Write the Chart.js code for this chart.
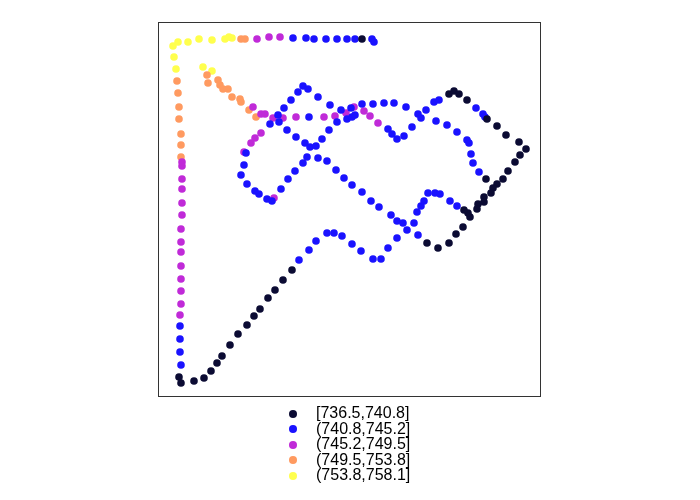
<!DOCTYPE html>
<html>
<head>
<meta charset="utf-8">
<script src="https://cdn.jsdelivr.net/npm/chart.js@4/dist/chart.umd.min.js"></script>
<style>
    body { margin: 0; background: #fff; }
    #wrap { position: relative; width: 700px; height: 500px; }
    #legend { position: absolute; left: 286px; top: 405px; font-family: "Liberation Sans", Arial, sans-serif; font-size: 16px; color: #000; }
    .row { position: relative; height: 15.5px; line-height: 15.5px; white-space: nowrap; }
    .dot { position: absolute; left: 3px; top: 4.5px; width: 8px; height: 8px; border-radius: 50%; }
    .lab { position: absolute; left: 30px; top: 0; }
</style>
</head>
<body>
<div id="wrap">
    <canvas id="track" width="700" height="500"></canvas>
    <div id="legend"></div>
</div>
<script>
// elevation bins of the track
const binLabels = ["[736.5,740.8]", "(740.8,745.2]", "(745.2,749.5]", "(749.5,753.8]", "(753.8,758.1]"];
const binColors = ["#0b0b33", "#1a12ff", "#c02ad8", "#ff9a60", "#ffff4d"];

// track points per bin, [easting, northing]
const bin1 = [
    [203,357],
    [20,19],[22,13],[35,15],[45,18],[52,25],[58,33],[63,40],[71,51],[79,62],[88,71],[95,80],
    [101,87],[109,98],[116,106],[124,116],[133,126],
    [290,302],[295,305],[300,302],[308,296],[328,277],[338,270],[347,261],[360,254],[367,247],
    [361,241],[356,234],[349,225],[344,217],[338,212],[334,208],[332,203],[327,217],
    [325,199],[325,194],[319,192],[318,187],[311,179],[309,183],[305,186],[304,169],[297,162],
    [290,153],[279,148],[268,153]
];
const bin2 = [
    [134,358],[147,358],[155,357],[167,357],[178,357],[188,357],[196,357],[213,357],[215,354],
    [21,70],[21,57],[21,44],[22,31],
    [140,136],[150,146],[157,155],[168,163],[175,163],[183,160],[193,152],[202,145],[214,137],
    [222,137],[229,148],[238,158],[248,166],[259,161],[255,173],[258,184],[262,190],[265,195],
    [269,203],[276,203],[281,202],[291,195],[298,190],
    [177,226],[185,218],[193,211],[203,204],[212,195],[220,189],[232,181],[238,175],[244,173],
    [168,235],[159,238],[148,239],[144,233],[136,225],[129,217],[122,207],[113,195],[108,197],
    [100,202],[96,205],[88,212],[82,221],[85,231],[87,243],
    [119,281],[125,288],[132,296],[139,304],[144,310],[149,307],[159,299],[171,291],[182,286],
    [120,274],[111,272],[128,266],[137,259],[146,253],[151,249],[157,250],[163,257],[170,266],
    [178,274],[150,279],[188,277],[193,279],[196,281],[192,288],[203,292],[214,292],[225,293],
    [235,293],[247,289],[229,267],[233,262],[238,257],[245,260],[253,269],[259,282],[267,286],
    [262,278],[277,275],[275,294],[280,296],[288,271],[298,264],[308,256],[310,253],[312,242],
    [314,233],[320,224],[317,288],[324,282],[326,279]
];
const bin3 = [
    [98,357],[110,359],[121,359],
    [23,234],[23,230],[23,217],[23,207],[23,193],[23,181],[22,167],[22,154],[22,144],[22,130],
    [22,117],[22,105],[22,92],[21,81],
    [94,289],[102,282],[106,282],[114,278],[124,278],[137,279],[165,279],[176,280],[187,283],
    [195,289],[205,285],[211,280],[219,273],
    [85,244],[92,253],[96,258],[102,263],[115,198]
];
const bin4 = [
    [82,357],[86,357],
    [18,315],[19,303],[20,289],[20,277],[22,262],[22,251],[22,239],
    [48,321],[49,313],[59,316],[61,311],[64,307],[69,307],[73,299],[81,297],[82,294],[90,286],[97,279]
];
const bin5 = [
    [14,350],[19,354],[29,354],[40,357],[53,356],[66,357],[70,359],[73,358],
    [15,339],[17,327],
    [44,329],[53,325]
];

const bins = [bin1, bin2, bin3, bin4, bin5];

const boxPlugin = {
    id: 'box',
    afterDraw(chart) {
        const a = chart.chartArea;
        const c = chart.ctx;
        c.save();
        c.strokeStyle = '#333';
        c.lineWidth = 1;
        c.strokeRect(Math.round(a.left) - 0.5, Math.round(a.top) - 0.5, a.right - a.left + 1, a.bottom - a.top + 1);
        c.restore();
    }
};

const datasets = bins.map((pts, i) => ({
    label: binLabels[i],
    data: pts.map(p => ({ x: p[0], y: p[1] })),
    backgroundColor: binColors[i],
    pointRadius: 3.8,
    pointBorderWidth: 0,
    pointHoverRadius: 3.8
}));

new Chart(document.getElementById('track'), {
    type: 'scatter',
    data: { datasets: datasets },
    options: {
        responsive: false,
        animation: false,
        layout: { padding: { left: 159, right: 160, top: 23, bottom: 104 } },
        scales: {
            x: { display: false, min: 0, max: 381 },
            y: { display: false, min: 0, max: 373 }
        },
        plugins: { legend: { display: false }, tooltip: { enabled: false } }
    },
    plugins: [boxPlugin]
});

const lg = document.getElementById('legend');
binLabels.forEach((lab, i) => {
    lg.innerHTML += `<div class="row"><span class="dot" style="background:${binColors[i]}"></span><span class="lab">${lab}</span></div>`;
});
</script>
</body>
</html>
